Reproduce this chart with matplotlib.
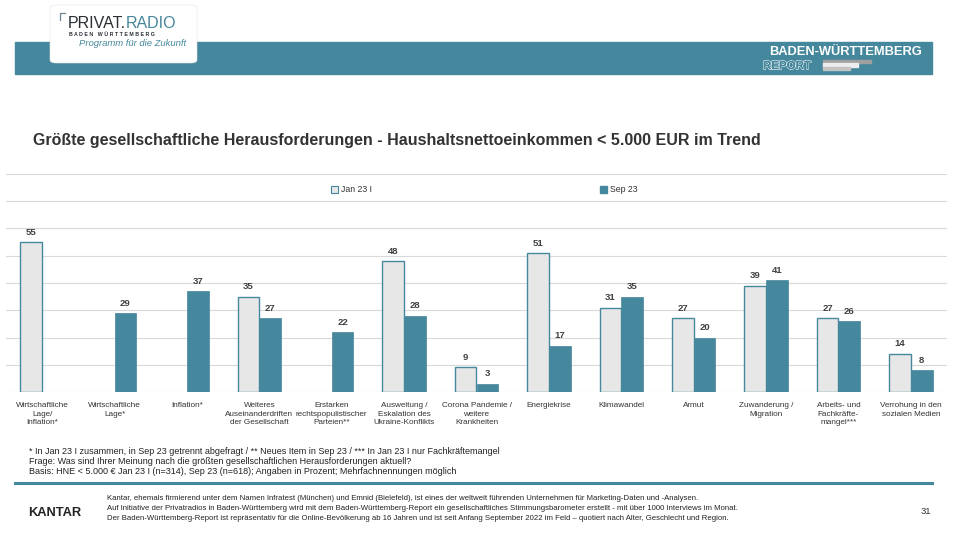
import matplotlib
matplotlib.use("Agg")
import matplotlib.pyplot as plt
import matplotlib.patheffects as pe
import numpy as np
from matplotlib.patches import Rectangle, FancyBboxPatch, Patch

plt.rcParams['font.family'] = ['Liberation Sans', 'DejaVu Sans']

categories = [
    "Wirtschaftliche\nLage/\nInflation*",
    "Wirtschaftliche\nLage*",
    "Inflation*",
    "Weiteres\nAuseinanderdriften\nder Gesellschaft",
    "Erstarken\nrechtspopulistischer\nParteien**",
    "Ausweitung /\nEskalation des\nUkraine-Konflikts",
    "Corona Pandemie /\nweitere\nKrankheiten",
    "Energiekrise",
    "Klimawandel",
    "Armut",
    "Zuwanderung /\nMigration",
    "Arbeits- und\nFachkräfte-\nmangel***",
    "Verrohung in den\nsozialen Medien",
]
jan23 = [55, None, None, 35, None, 48, 9, 51, 31, 27, 39, 27, 14]
sep23 = [None, 29, 37, 27, 22, 28, 3, 17, 35, 20, 41, 26, 8]
series_names = ["Jan 23 I", "Sep 23"]

TEAL = "#45879C"
LIGHT = "#E7E7E7"
GRID = "#D9D9D9"
TXT = "#404040"

W, H = 960, 540
fig = plt.figure(figsize=(9.6, 5.4), dpi=100)

def fx(x): return x / W
def fy(y): return 1 - y / H

# header band
fig.patches.append(Rectangle((fx(15), fy(74)), fx(932) - fx(15), (74 - 42) / H,
                             transform=fig.transFigure, color=TEAL, zorder=1))
# logo box
fig.patches.append(FancyBboxPatch((fx(50), fy(63)), (197 - 50) / W, (63 - 5) / H,
                                  boxstyle="round,pad=0,rounding_size=0.006",
                                  transform=fig.transFigure, facecolor="white",
                                  edgecolor="#E4E4E4", linewidth=0.4, zorder=2))
fig.lines.append(plt.Line2D([fx(60), fx(60), fx(65)], [fy(20), fy(12.5), fy(12.5)],
                            transform=fig.transFigure, color="#6F8793", lw=0.9, zorder=3))
t1 = fig.text(fx(68), fy(23), "PRIVAT.", fontsize=11.5, color="#2A2F36", va="center", ha="left",
              zorder=4)
fig.canvas.draw()
bb = t1.get_window_extent(fig.canvas.get_renderer())
fig.text(bb.x1 / W - 0.5 / W, fy(23), "RADIO", fontsize=11.5, color=TEAL, va="center", ha="left",
         zorder=4)
fig.text(fx(69), fy(34), "B A D E N   W Ü R T T E M B E R G", fontsize=3.8, color="#2A2F36",
         va="center", ha="left", zorder=4, fontweight="bold")
fig.text(fx(79), fy(43), "Programm für die Zukunft", fontsize=6.8, color=TEAL,
         style="italic", va="center", ha="left", zorder=4)
# right header
fig.text(fx(922), fy(52), "BADEN-WÜRTTEMBERG", fontsize=9.3, color="white", fontweight="bold",
         va="center", ha="right", zorder=4)
fig.text(fx(763), fy(66), "REPORT", fontsize=8.3, color=TEAL, fontweight="bold",
         va="center", ha="left", zorder=4,
         path_effects=[pe.withStroke(linewidth=0.9, foreground="white"),
                       pe.Normal()])
fig.patches.append(Rectangle((fx(823), fy(63)), 48 / W, 3.3 / H, transform=fig.transFigure,
                             color="#A0A0A0", zorder=3))
fig.patches.append(Rectangle((fx(823), fy(66.5)), 35 / W, 3.3 / H, transform=fig.transFigure,
                             color="#EDEDED", zorder=3))
fig.patches.append(Rectangle((fx(823), fy(69.5)), 27 / W, 3 / H, transform=fig.transFigure,
                             color="#C4C4C4", zorder=3))

# title
fig.text(fx(33), fy(141), "Größte gesellschaftliche Herausforderungen - Haushaltsnettoeinkommen < 5.000 EUR im Trend",
         fontsize=11.5, fontweight="bold", color="#333333", va="center", ha="left")

# axes
ax = fig.add_axes([fx(6), fy(392), fx(947) - fx(6), (392 - 174) / H])
n = len(categories)
x = np.arange(n)
bw = 0.3
for i in range(n):
    if jan23[i] is not None:
        ax.bar(x[i] - bw / 2, jan23[i], bw, color=LIGHT, edgecolor=TEAL, linewidth=1.0, zorder=3)
        ax.text(x[i] - bw / 2, jan23[i] + 2.0, str(jan23[i]), ha="center", va="bottom",
                fontsize=6.8, fontweight="bold", color=TXT)
    if sep23[i] is not None:
        ax.bar(x[i] + bw / 2, sep23[i], bw, color=TEAL, edgecolor=TEAL, linewidth=0.5, zorder=3)
        ax.text(x[i] + bw / 2, sep23[i] + 2.0, str(sep23[i]), ha="center", va="bottom",
                fontsize=6.8, fontweight="bold", color=TXT)

ax.set_xlim(-0.5, n - 0.5)
ax.set_ylim(0, 80)
ax.set_yticks(np.arange(0, 81, 10))
ax.yaxis.grid(True, color=GRID, linewidth=0.8, zorder=0)
ax.tick_params(axis="y", left=False, labelleft=False)
ax.tick_params(axis="x", bottom=False, pad=4)
ax.set_xticks(x)
ax.set_xticklabels(categories, fontsize=5.9, color="#333333", linespacing=1.25)
for s in ax.spines.values():
    s.set_visible(False)

# legends
h1 = Patch(facecolor=LIGHT, edgecolor=TEAL, linewidth=0.8, label=series_names[0])
h2 = Patch(facecolor=TEAL, edgecolor=TEAL, label=series_names[1])
for h, xpos in ((h1, 331), (h2, 600)):
    lg = fig.legend(handles=[h], loc="center left", bbox_to_anchor=(fx(xpos), fy(190)),
                    frameon=False, fontsize=6.3, handlelength=0.8, handleheight=0.8,
                    handletextpad=0.3, borderaxespad=0, borderpad=0)
    for t in lg.get_texts():
        t.set_color("#333333")

# footnotes
notes = [
    "* In Jan 23 I zusammen, in Sep 23 getrennt abgefragt / ** Neues Item in Sep 23 / *** In Jan 23 I nur Fachkräftemangel",
    "Frage: Was sind Ihrer Meinung nach die größten gesellschaftlichen Herausforderungen aktuell?",
    "Basis: HNE < 5.000 € Jan 23 I (n=314), Sep 23 (n=618); Angaben in Prozent; Mehrfachnennungen möglich",
]
for i, t in enumerate(notes):
    fig.text(fx(29), fy(451 + i * 10.5), t, fontsize=6.5, color="#222222", va="center", ha="left")

# footer
fig.lines.append(plt.Line2D([fx(15), fx(932)], [fy(483), fy(483)], transform=fig.transFigure,
                            color=TEAL, lw=2.2))
fig.text(fx(28), fy(513), "KANTAR", fontsize=9.3, fontweight="bold", color="#222222",
         va="center", ha="left")
footer = [
    "Kantar, ehemals firmierend unter dem Namen Infratest (München) und Emnid (Bielefeld), ist eines der weltweit führenden Unternehmen für Marketing-Daten und -Analysen.",
    "Auf Initiative der Privatradios in Baden-Württemberg wird mit dem Baden-Württemberg-Report ein gesellschaftliches Stimmungsbarometer erstellt - mit über 1000 Interviews im Monat.",
    "Der Baden-Württemberg-Report ist repräsentativ für die Online-Bevölkerung ab 16 Jahren und ist seit Anfang September 2022 im Feld – quotiert nach Alter, Geschlecht und Region.",
]
for i, t in enumerate(footer):
    fig.text(fx(107), fy(498 + i * 10.5), t, fontsize=5.6, color="#222222", va="center", ha="left")
fig.text(fx(931), fy(512), "31", fontsize=6.8, color="#333333", va="center", ha="right")

fig.savefig("out.png", dpi=100)
